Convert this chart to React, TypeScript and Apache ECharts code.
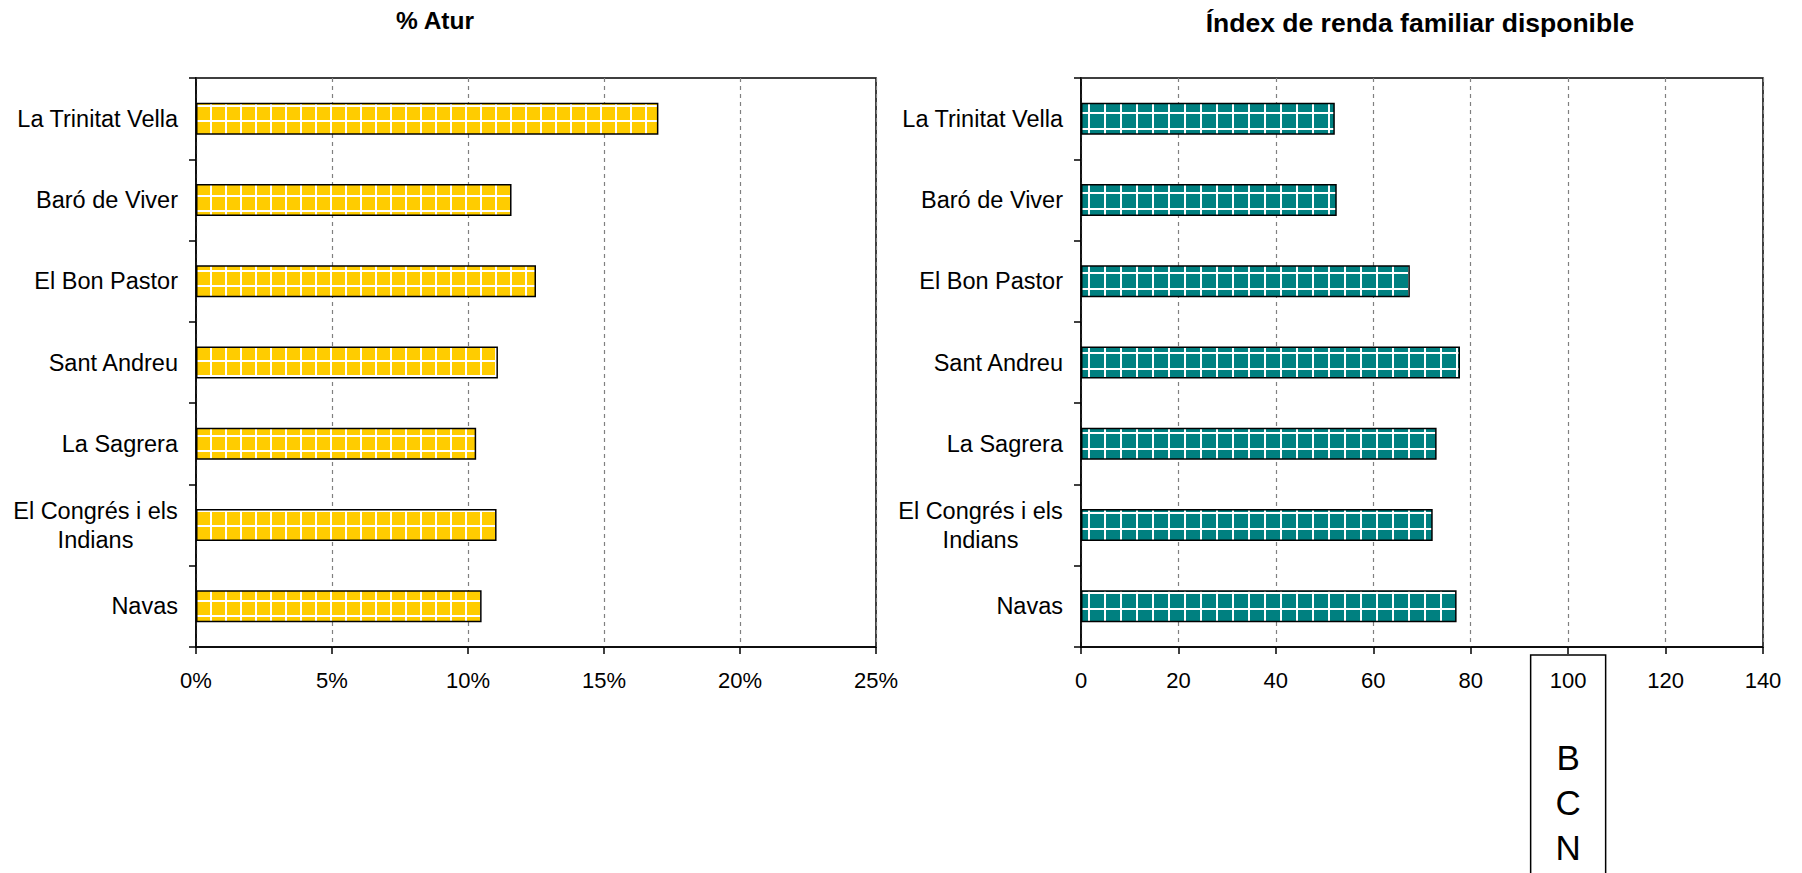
import { useEffect, useRef } from 'react';
import * as echarts from 'echarts';

const CATEGORIES = [
  'La Trinitat Vella',
  'Baró de Viver',
  'El Bon Pastor',
  'Sant Andreu',
  'La Sagrera',
  'El Congrés i els\nIndians',
  'Navas',
];
const ATUR_VALUES = [17.0, 11.6, 12.5, 11.1, 10.3, 11.05, 10.5];
const RENDA_VALUES = [52.1, 52.5, 67.5, 77.8, 73.0, 72.2, 77.1];
const ATUR_MAX = 25;
const ATUR_STEP = 5;
const RENDA_MAX = 140;
const RENDA_STEP = 20;
const BCN_VALUE = 100;
const BCN_TEXT = ['B', 'C', 'N'];
const TITLES = ['% Atur', 'Índex de renda familiar disponible'];

const FONT = '"Liberation Sans", Arial, Helvetica, sans-serif';

function makeGridPattern(fill: string, line: string, size: number) {
  const c = document.createElement('canvas');
  c.width = size;
  c.height = size;
  const ctx = c.getContext('2d')!;
  ctx.fillStyle = fill;
  ctx.fillRect(0, 0, size, size);
  ctx.fillStyle = line;
  ctx.fillRect(0, 0, 2, size);
  ctx.fillRect(0, 0, size, 2);
  return c;
}

export default function App() {
  const ref = useRef<HTMLDivElement>(null);
  useEffect(() => {
    if (!ref.current) return;
    const chart = echarts.init(ref.current, null, { renderer: 'svg' });

    const yellow = makeGridPattern('#FFCC00', '#FFFFFF', 15);
    const teal = makeGridPattern('#008080', '#FFFFFF', 16);

    const labelFormatter = (v: string) =>
      v.includes('\n') ? v.split('\n').map((s) => `{c|${s}}`).join('\n') : v;

    const catAxis = (gridIndex: number) => ({
      type: 'category',
      gridIndex,
      data: CATEGORIES,
      inverse: true,
      axisLine: { show: true, lineStyle: { color: '#000', width: 1.5 } },
      axisTick: { show: true, length: 7, lineStyle: { color: '#000', width: 1.5 } },
      axisLabel: {
        color: '#000',
        fontSize: 23.5,
        fontFamily: FONT,
        margin: 18,
        lineHeight: 29,
        formatter: labelFormatter,
        rich: {
          c: { width: 165, align: 'center', fontSize: 23.5, fontFamily: FONT, lineHeight: 29, color: '#000' },
        },
      },
      splitLine: { show: false },
    });

    const valAxis = (gridIndex: number, max: number, step: number, fmt: any) => ({
      type: 'value',
      gridIndex,
      min: 0,
      max,
      interval: step,
      axisLine: { show: true, lineStyle: { color: '#000', width: 1.5 } },
      axisTick: { show: true, length: 7, lineStyle: { color: '#000', width: 1.5 } },
      axisLabel: { color: '#000', fontSize: 22, fontFamily: FONT, margin: 22, formatter: fmt },
      splitLine: { show: true, lineStyle: { color: '#808080', width: 1.2, type: [4, 4] } },
    });

    const gridBase = { top: 78, height: 569, show: true, borderColor: '#000', borderWidth: 1.5, backgroundColor: 'transparent' };

    chart.setOption({
      animation: false,
      grid: [
        { ...gridBase, left: 196, width: 680 },
        { ...gridBase, left: 1081, width: 682 },
      ],
      xAxis: [
        valAxis(0, ATUR_MAX, ATUR_STEP, '{value}%'),
        valAxis(1, RENDA_MAX, RENDA_STEP, '{value}'),
      ],
      yAxis: [catAxis(0), catAxis(1)],
      series: [
        {
          type: 'bar',
          xAxisIndex: 0,
          yAxisIndex: 0,
          data: ATUR_VALUES,
          barWidth: 32,
          itemStyle: {
            color: { image: yellow, repeat: 'repeat', imageWidth: 15, imageHeight: 15 } as any,
            borderColor: '#000',
            borderWidth: 1.5,
          },
          emphasis: { disabled: true },
        },
        {
          type: 'bar',
          xAxisIndex: 1,
          yAxisIndex: 1,
          data: RENDA_VALUES,
          barWidth: 32,
          itemStyle: {
            color: { image: teal, repeat: 'repeat', imageWidth: 16, imageHeight: 16 } as any,
            borderColor: '#000',
            borderWidth: 1.5,
          },
          emphasis: { disabled: true },
        },
      ],
    });

    const bx = chart.convertToPixel({ xAxisIndex: 1 } as any, BCN_VALUE) as number;

    const titleStyle = (text: string, size: number) => ({
      text,
      fontSize: size,
      fontWeight: 'bold',
      fontFamily: FONT,
      fill: '#000',
      align: 'center',
      verticalAlign: 'middle',
      textAlign: 'center',
      textVerticalAlign: 'middle',
    });

    chart.setOption({
      graphic: [
        { type: 'text', x: 435, y: 20, style: titleStyle(TITLES[0], 24.5) },
        { type: 'text', x: 1420, y: 23, style: titleStyle(TITLES[1], 26.5) },
        {
          type: 'rect',
          shape: { x: bx - 37.5, y: 655, width: 75, height: 240 },
          style: { fill: 'none', stroke: '#000', lineWidth: 1.5 },
        },
        {
          type: 'text',
          x: bx,
          y: 802,
          style: {
            text: BCN_TEXT.join('\n'),
            fontSize: 35,
            lineHeight: 45,
            fontFamily: FONT,
            fill: '#000',
            align: 'center',
            verticalAlign: 'middle',
            textAlign: 'center',
            textVerticalAlign: 'middle',
          },
        },
      ],
    });

    return () => chart.dispose();
  }, []);

  return (
    <div
      ref={ref}
      style={{ position: 'fixed', left: 0, top: 0, width: 1802, height: 873, background: '#fff' }}
    />
  );
}
